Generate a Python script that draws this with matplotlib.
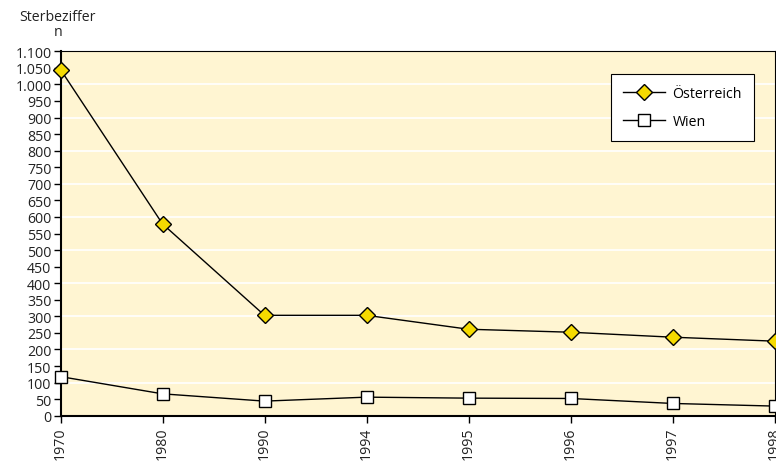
import matplotlib
matplotlib.use("Agg")
import matplotlib.pyplot as plt
from matplotlib.ticker import FuncFormatter, MultipleLocator

plt.rcParams['font.family'] = ['Open Sans', 'DejaVu Sans']

years = ["1970", "1980", "1990", "1994", "1995", "1996", "1997", "1998"]
oesterreich = [1045, 579, 303, 303, 261, 252, 237, 225]
wien = [118, 66, 44, 56, 53, 52, 37, 29]

FS = 10.2
W, H = 776, 464
fig = plt.figure(figsize=(W / 100, H / 100), dpi=100)
ax = fig.add_axes([60.5 / W, (H - 416.7) / H, (774.5 - 60.5) / W, (416.7 - 52.3) / H])
ax.set_facecolor('#FFF5D2')

x = list(range(len(years)))
ax.plot(x, oesterreich, color='black', lw=1.0, marker='D', markersize=8.3,
        markerfacecolor='#F5DA00', markeredgecolor='black', markeredgewidth=1.0,
        label='Österreich', clip_on=False, zorder=4)
ax.plot(x, wien, color='black', lw=1.0, marker='s', markersize=8.5,
        markerfacecolor='white', markeredgecolor='black', markeredgewidth=1.0,
        label='Wien', clip_on=False, zorder=4)

ax.set_xlim(0, len(years) - 1)
ax.set_ylim(0, 1100)
ax.set_xticks(x)
ax.set_xticklabels(years, rotation=90, fontsize=FS, color='#222222')
ax.yaxis.set_major_locator(MultipleLocator(50))
ax.yaxis.set_major_formatter(FuncFormatter(lambda v, p: f"{int(v):,}".replace(",", ".")))
ax.tick_params(axis='y', labelsize=FS, length=5, width=1, direction='out', pad=1.5,
               labelcolor='#222222')
ax.tick_params(axis='x', length=5, width=1, direction='out', pad=3)

for v in range(100, 1100, 100):
    ax.axhline(v, color='white', lw=1.2, zorder=1)

for side in ['top', 'right']:
    ax.spines[side].set_linewidth(0.8)
for side in ['left', 'bottom']:
    ax.spines[side].set_linewidth(1.5)

fig.text(58 / W, 1 - 25 / H, "Sterbeziffer\nn", ha='center', va='center',
         fontsize=FS, color='#222222', linespacing=1.05)

leg = ax.legend(loc='upper right', bbox_to_anchor=(754 / W, 1 - 74.5 / H),
                bbox_transform=fig.transFigure, frameon=True, fancybox=False,
                fontsize=FS, handlelength=3.0, handletextpad=0.5,
                borderpad=0.85, labelspacing=0.95, borderaxespad=0)
leg.get_frame().set_edgecolor('black')
leg.get_frame().set_linewidth(0.8)
leg.get_frame().set_facecolor('white')
leg.get_frame().set_alpha(1)

fig.savefig("out.png", dpi=100)
